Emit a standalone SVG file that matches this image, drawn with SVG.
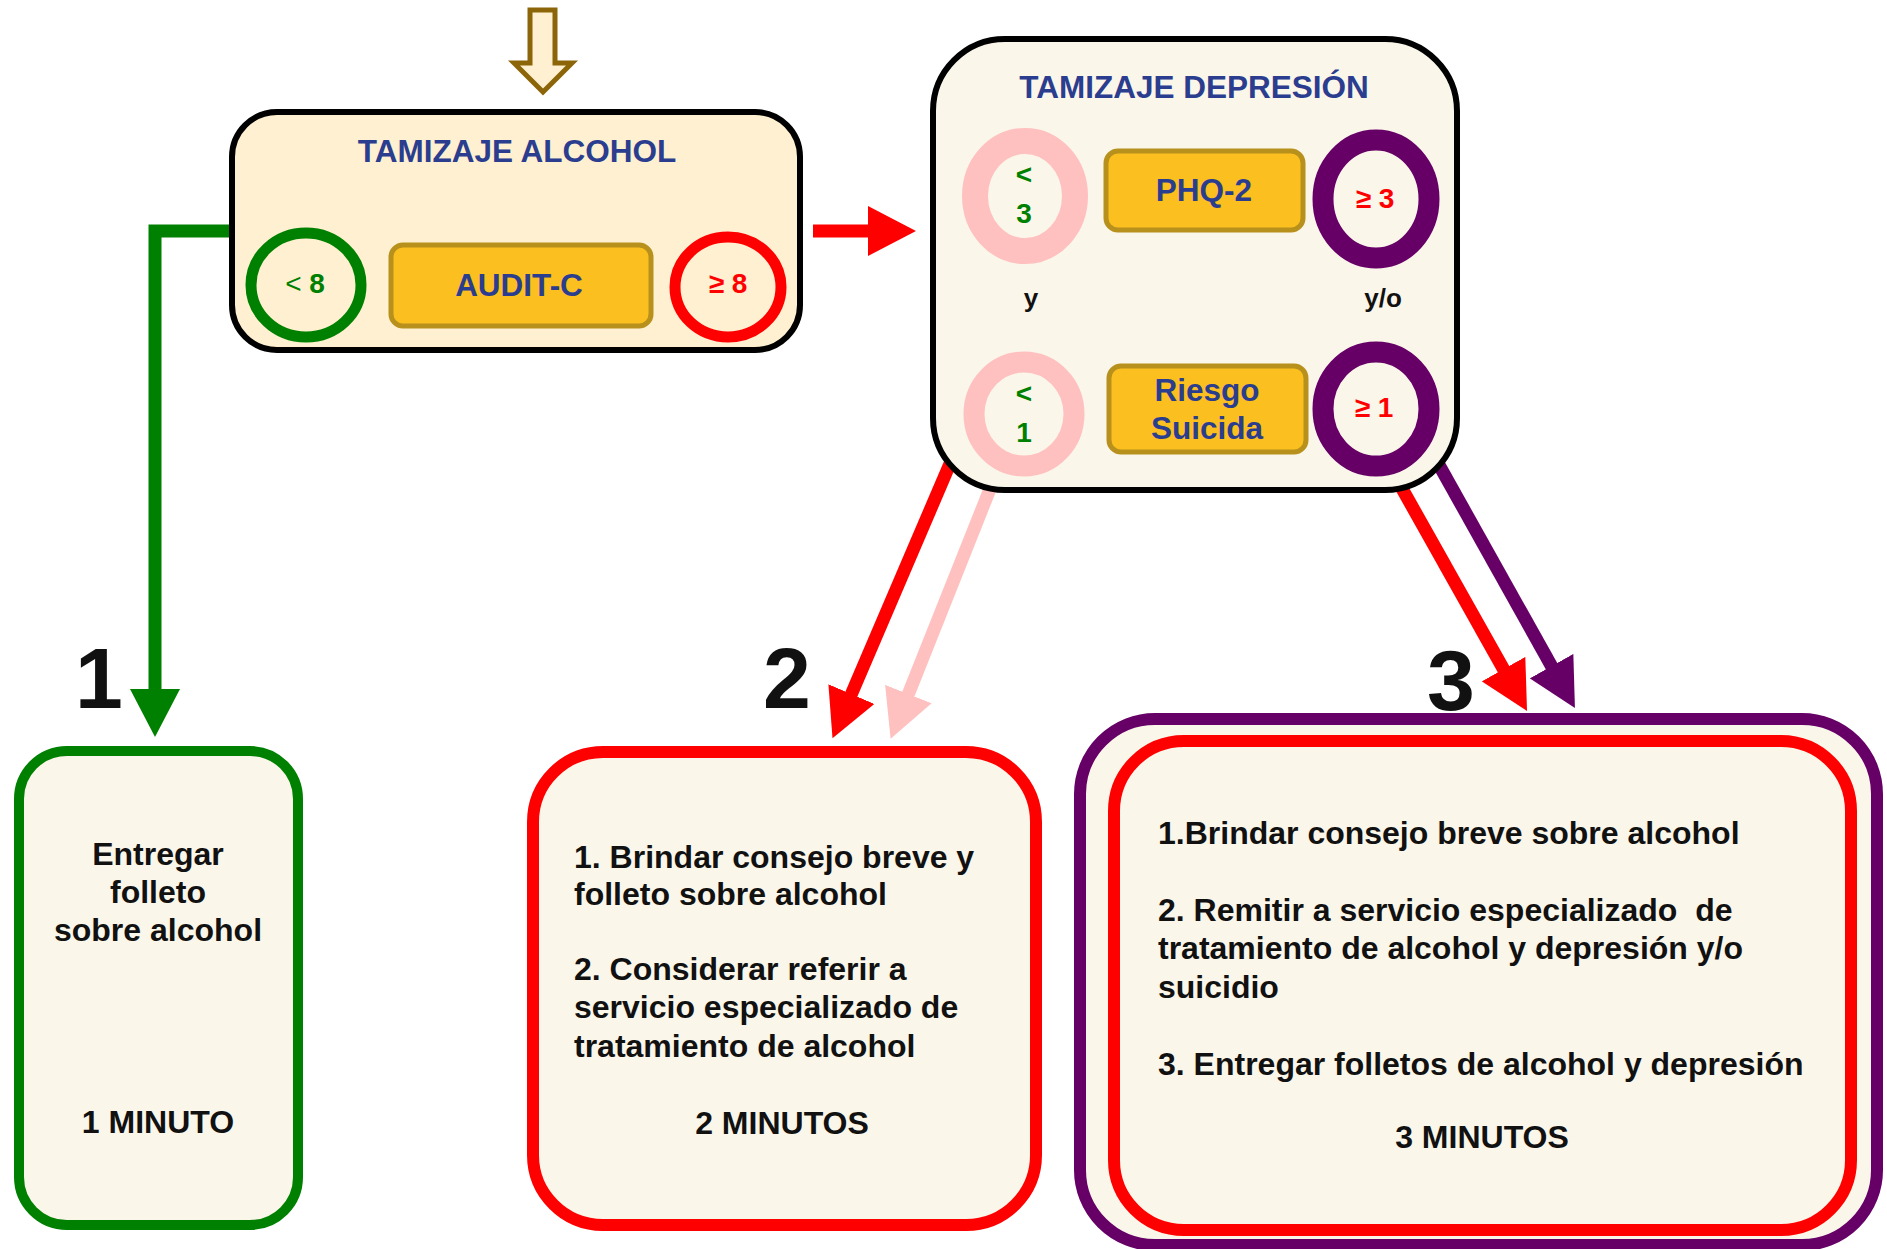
<svg xmlns="http://www.w3.org/2000/svg" width="1887" height="1249" viewBox="0 0 1887 1249">
<style>
  text { font-family: "Liberation Sans", Arial, sans-serif; font-weight: bold; }
  .title { fill: #2B3D8F; font-size: 31.5px; text-anchor: middle; }
  .tool { fill: #FBC020; stroke: #B8901C; stroke-width: 5; }
  .tooltxt { fill: #2B3D8F; font-size: 31.5px; text-anchor: middle; }
  .num { font-size: 28px; text-anchor: middle; }
  .g { fill: #008000; }
  .r { fill: #FF0000; }
  .body { fill: #111; font-size: 32px; }
  .mid { text-anchor: middle; }
  .big { fill: #111; font-size: 86px; text-anchor: middle; }
  .cream { fill: #FBF6EA; }
  .shaft { fill: none; stroke-width: 13; stroke-linecap: butt; stroke-linejoin: miter; }
</style>
<defs>
  <marker id="hG" markerUnits="userSpaceOnUse" markerWidth="50" markerHeight="50" refX="1" refY="25" orient="auto" viewBox="0 0 50 50"><path d="M0,0 L48,25 L0,50 z" fill="#008000"/></marker>
  <marker id="hR" markerUnits="userSpaceOnUse" markerWidth="50" markerHeight="50" refX="1" refY="25" orient="auto" viewBox="0 0 50 50"><path d="M0,0 L48,25 L0,50 z" fill="#FF0000"/></marker>
  <marker id="hP" markerUnits="userSpaceOnUse" markerWidth="50" markerHeight="50" refX="1" refY="25" orient="auto" viewBox="0 0 50 50"><path d="M0,0 L48,25 L0,50 z" fill="#FFC0C0"/></marker>
  <marker id="hV" markerUnits="userSpaceOnUse" markerWidth="50" markerHeight="50" refX="1" refY="25" orient="auto" viewBox="0 0 50 50"><path d="M0,0 L48,25 L0,50 z" fill="#660066"/></marker>
</defs>
<rect width="1887" height="1249" fill="#FFFFFF"/>

<g id="connectors">
  <polygon id="entry-arrow" points="530,10 555,10 555,63 572,63 543,92 514,63 530,63" fill="#FEF0D0" stroke="#8B6508" stroke-width="5" stroke-linejoin="miter"/>
  <path d="M236,231 H155 V690" class="shaft" stroke="#008000" stroke-width="16" marker-end="url(#hG)"/>
  <path d="M813,231 H869" class="shaft" stroke="#FF0000" stroke-width="17" marker-end="url(#hR)"/>
  <path d="M955,452 L851,695" class="shaft" stroke="#FF0000" marker-end="url(#hR)"/>
  <path d="M992,484 L908,695" class="shaft" stroke="#FFC0C0" marker-end="url(#hP)"/>
  <path d="M1395,476 L1504,670" class="shaft" stroke="#FF0000" marker-end="url(#hR)"/>
  <path d="M1434,456 L1552,667" class="shaft" stroke="#660066" marker-end="url(#hV)"/>
</g>

<g id="tamizaje-alcohol">
  <rect x="232" y="112" width="568" height="238" rx="45" ry="45" fill="#FEF0D0" stroke="#000" stroke-width="6"/>
  <text class="title" x="517" y="162">TAMIZAJE ALCOHOL</text>
  <ellipse cx="306" cy="285" rx="55" ry="52" fill="#FEF0D0" stroke="#008000" stroke-width="11"/>
  <text class="num g" x="305" y="293"><tspan font-weight="normal">&lt;</tspan> 8</text>
  <rect x="391" y="245" width="260" height="81" rx="12" class="tool"/>
  <text class="tooltxt" x="519" y="296">AUDIT-C</text>
  <ellipse cx="728" cy="287" rx="53" ry="50" fill="#FEF0D0" stroke="#FF0000" stroke-width="11"/>
  <text class="num r" x="728" y="293">≥ 8</text>
</g>

<g id="tamizaje-depresion">
  <rect x="933" y="39" width="524" height="451" rx="72" ry="72" class="cream" stroke="#000" stroke-width="6"/>
  <text class="title" x="1194" y="98">TAMIZAJE DEPRESIÓN</text>
  <ellipse cx="1025" cy="196" rx="50" ry="55" class="cream" stroke="#FFC0C0" stroke-width="26"/>
  <text class="num g" x="1024" y="184">&lt;</text>
  <text class="num g" x="1024" y="223">3</text>
  <rect x="1106" y="151" width="197" height="79" rx="12" class="tool"/>
  <text class="tooltxt" x="1204" y="201">PHQ-2</text>
  <ellipse cx="1376" cy="199" rx="53" ry="59" class="cream" stroke="#660066" stroke-width="21"/>
  <text class="num r" x="1375" y="208">≥ 3</text>
  <text x="1031" y="307" font-size="26" fill="#111" text-anchor="middle">y</text>
  <text x="1383" y="307" font-size="26" fill="#111" text-anchor="middle">y/o</text>
  <ellipse cx="1024" cy="414" rx="50" ry="52" class="cream" stroke="#FFC0C0" stroke-width="21"/>
  <text class="num g" x="1024" y="403">&lt;</text>
  <text class="num g" x="1024" y="442">1</text>
  <rect x="1109" y="366" width="197" height="86" rx="12" class="tool"/>
  <text class="tooltxt" x="1207" y="401">Riesgo</text>
  <text class="tooltxt" x="1207" y="439">Suicida</text>
  <ellipse cx="1376" cy="409" rx="53" ry="57" class="cream" stroke="#660066" stroke-width="21"/>
  <text class="num r" x="1374" y="417">≥ 1</text>
</g>

<g id="resultado-1">
  <text class="big" x="99" y="708">1</text>
  <rect x="19" y="751" width="279" height="474" rx="48" ry="48" class="cream" stroke="#008000" stroke-width="10"/>
  <text class="body mid" x="158" y="865">Entregar</text>
  <text class="body mid" x="158" y="903">folleto</text>
  <text class="body mid" x="158" y="941">sobre alcohol</text>
  <text class="body mid" x="158" y="1133">1 MINUTO</text>
</g>

<g id="resultado-2">
  <text class="big" x="787" y="708">2</text>
  <rect x="533" y="752" width="503" height="473" rx="70" ry="70" class="cream" stroke="#FF0000" stroke-width="12"/>
  <text class="body" x="574" y="868">1. Brindar consejo breve y</text>
  <text class="body" x="574" y="905">folleto sobre alcohol</text>
  <text class="body" x="574" y="980">2. Considerar referir a</text>
  <text class="body" x="574" y="1018">servicio especializado de</text>
  <text class="body" x="574" y="1057">tratamiento de alcohol</text>
  <text class="body mid" x="782" y="1134">2 MINUTOS</text>
</g>

<g id="resultado-3">
  <text class="big" x="1451" y="710">3</text>
  <rect x="1080" y="719" width="797" height="526" rx="75" ry="75" class="cream" stroke="#660066" stroke-width="12"/>
  <rect x="1114" y="741" width="737" height="489" rx="70" ry="70" class="cream" stroke="#FF0000" stroke-width="12"/>
  <text class="body" x="1158" y="844">1.Brindar consejo breve sobre alcohol</text>
  <text class="body" x="1158" y="921">2. Remitir a servicio especializado&#160; de</text>
  <text class="body" x="1158" y="959">tratamiento de alcohol y depresión y/o</text>
  <text class="body" x="1158" y="998">suicidio</text>
  <text class="body" x="1158" y="1075">3. Entregar folletos de alcohol y depresión</text>
  <text class="body mid" x="1482" y="1148">3 MINUTOS</text>
</g>
</svg>
